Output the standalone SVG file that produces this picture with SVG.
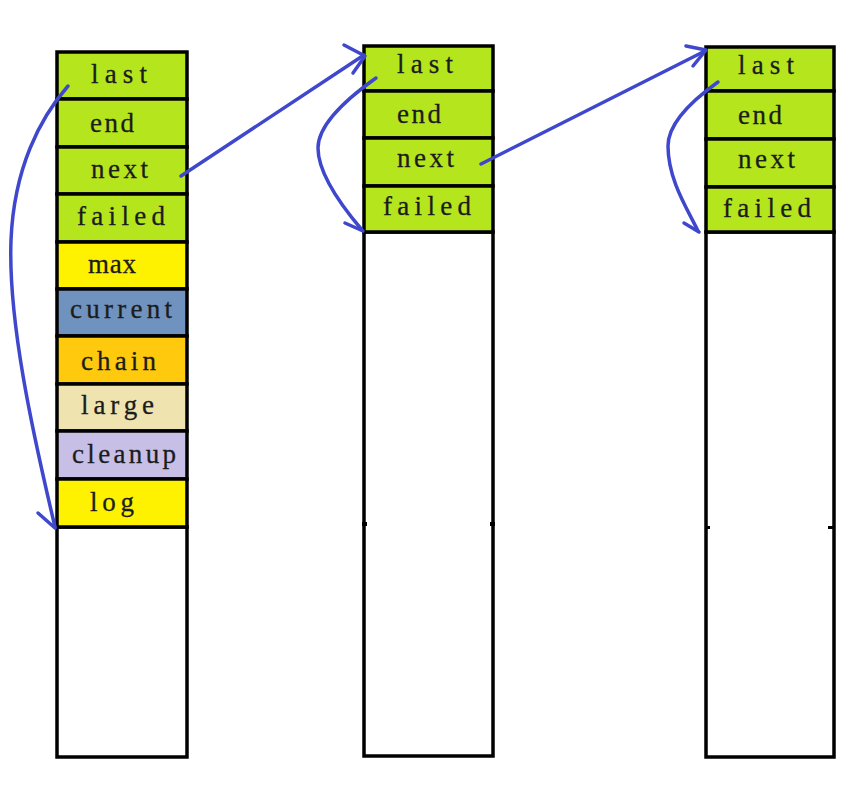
<svg xmlns="http://www.w3.org/2000/svg" width="858" height="794" viewBox="0 0 858 794">
<style>
.c{stroke:#000;stroke-width:3.5}
.g{fill:#b5e61d}.y{fill:#fff200}.b{fill:#7092be}.o{fill:#ffc90e}.l{fill:#efe4b0}.p{fill:#c8bfe7}.w{fill:#fff}
text{font-family:"Liberation Serif","DejaVu Serif",serif;font-size:27px;fill:#1c1c1c;stroke:#1c1c1c;stroke-width:0.3}
.a{fill:none;stroke:#3f48cc;stroke-width:3.5;stroke-linecap:round;stroke-linejoin:round}
</style>
<rect width="858" height="794" fill="#fff"/>
<g id="col1">
<rect class="c w" x="57" y="527" width="130" height="230"/>
<g id="c1-last"><rect class="c g" x="57" y="52" width="130" height="47"/><text x="91" y="83" textLength="56" lengthAdjust="spacing">last</text></g>
<g id="c1-end"><rect class="c g" x="57" y="99" width="130" height="48"/><text x="90" y="132" textLength="44" lengthAdjust="spacing">end</text></g>
<g id="c1-next"><rect class="c g" x="57" y="147" width="130" height="47"/><text x="91" y="178" textLength="57" lengthAdjust="spacing">next</text></g>
<g id="c1-failed"><rect class="c g" x="57" y="194" width="130" height="48"/><text x="77" y="225" textLength="88" lengthAdjust="spacing">failed</text></g>
<g id="c1-max"><rect class="c y" x="57" y="242" width="130" height="47"/><text x="88" y="273" textLength="48" lengthAdjust="spacing">max</text></g>
<g id="c1-current"><rect class="c b" x="57" y="289" width="130" height="47"/><text x="70" y="318" textLength="102" lengthAdjust="spacing">current</text></g>
<g id="c1-chain"><rect class="c o" x="57" y="336" width="130" height="48"/><text x="81" y="370" textLength="75" lengthAdjust="spacing">chain</text></g>
<g id="c1-large"><rect class="c l" x="57" y="384" width="130" height="47"/><text x="81" y="414" textLength="73" lengthAdjust="spacing">large</text></g>
<g id="c1-cleanup"><rect class="c p" x="57" y="431" width="130" height="48"/><text x="72" y="463" textLength="104" lengthAdjust="spacing">cleanup</text></g>
<g id="c1-log"><rect class="c y" x="57" y="479" width="130" height="48"/><text x="90" y="511" textLength="44" lengthAdjust="spacing">log</text></g>
</g>
<g id="col2">
<rect class="c w" x="364" y="232" width="129" height="524"/>
<g id="c2-last"><rect class="c g" x="364" y="46" width="129" height="45"/><text x="397" y="73" textLength="56" lengthAdjust="spacing">last</text></g>
<g id="c2-end"><rect class="c g" x="364" y="91" width="129" height="47"/><text x="397" y="123" textLength="44" lengthAdjust="spacing">end</text></g>
<g id="c2-next"><rect class="c g" x="364" y="138" width="129" height="48"/><text x="397" y="167" textLength="57" lengthAdjust="spacing">next</text></g>
<g id="c2-failed"><rect class="c g" x="364" y="186" width="129" height="46"/><text x="383" y="215" textLength="88" lengthAdjust="spacing">failed</text></g>
<rect x="362" y="522" width="5" height="4" fill="#000"/><rect x="490" y="522" width="5" height="4" fill="#000"/>
</g>
<g id="col3">
<rect class="c w" x="706" y="232" width="128" height="525"/>
<g id="c3-last"><rect class="c g" x="706" y="47" width="128" height="44"/><text x="738" y="74" textLength="56" lengthAdjust="spacing">last</text></g>
<g id="c3-end"><rect class="c g" x="706" y="91" width="128" height="48"/><text x="738" y="124" textLength="44" lengthAdjust="spacing">end</text></g>
<g id="c3-next"><rect class="c g" x="706" y="139" width="128" height="48"/><text x="738" y="168" textLength="57" lengthAdjust="spacing">next</text></g>
<g id="c3-failed"><rect class="c g" x="706" y="187" width="128" height="45"/><text x="723" y="217" textLength="88" lengthAdjust="spacing">failed</text></g>
<rect x="706" y="526" width="4" height="3" fill="#000"/><rect x="828" y="526" width="6" height="3" fill="#000"/>
</g>
<g id="connectors">
<path class="a" d="M68 86 C40 118 14 168 11 240 C8 320 32 430 55 527"/>
<path class="a" d="M38 513 L55 528"/>
<path class="a" d="M181 176 L364 55"/>
<path class="a" d="M344 45 L365 56 L353 73"/>
<path class="a" d="M376 78 C345 100 318 125 318 148 C318 176 345 210 362 230"/>
<path class="a" d="M345 223 L363 231"/>
<path class="a" d="M481 164 L705 51"/>
<path class="a" d="M686 46 L706 50 L693 66"/>
<path class="a" d="M718 82 C690 102 668 125 668 146 C668 180 688 210 698 231"/>
<path class="a" d="M684 223 L699 232"/>
</g>
</svg>
